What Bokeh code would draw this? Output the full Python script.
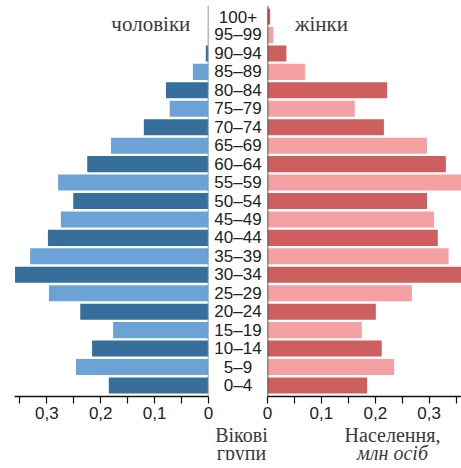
from bokeh.plotting import figure
from bokeh.layouts import row, column
from bokeh.models import Range1d, FactorRange, Span, FixedTicker, CustomJSTickFormatter, ColumnDataSource
from bokeh.core.properties import value
from bokeh.embed import file_html
from bokeh.resources import INLINE

# ---- data (millions of people) ----
age_groups = ["0–4", "5–9", "10–14", "15–19", "20–24", "25–29", "30–34", "35–39",
              "40–44", "45–49", "50–54", "55–59", "60–64", "65–69", "70–74", "75–79",
              "80–84", "85–89", "90–94", "95–99", "100+"]
men = [0.185, 0.246, 0.216, 0.177, 0.238, 0.296, 0.359, 0.331, 0.298, 0.274, 0.251,
       0.279, 0.225, 0.181, 0.120, 0.072, 0.079, 0.029, 0.005, 0.001, 0.0005]
women = [0.185, 0.235, 0.212, 0.175, 0.201, 0.268, 0.362, 0.336, 0.316, 0.309, 0.296,
         0.362, 0.331, 0.296, 0.216, 0.162, 0.222, 0.070, 0.035, 0.011, 0.005]
tick_values = [0.0, 0.05, 0.1, 0.15, 0.2, 0.25, 0.3, 0.35]
tick_labels = ["0", "", "0,1", "", "0,2", "", "0,3", ""]
x_max = 0.36
men_label = "чоловіки"
women_label = "жінки"
age_title = ["Вікові", "групи"]
value_title = ["Населення,", "млн осіб"]

# ---- styles ----
SANS_NAME = "Liberation Sans"
SANS = value(SANS_NAME)
SERIF = value("Liberation Serif")
M_DARK, M_LIGHT = "#366e9c", "#6ca3d6"
F_DARK, F_LIGHT = "#cd5f5e", "#f5a0a2"
TXT = "#222222"
SERIF_TXT = "#3a3a3a"
SERIF_SIZE = "21px"
BOT_SIZE = "20px"

men_colors = [M_DARK if i % 2 == 0 else M_LIGHT for i in range(len(age_groups))]
women_colors = [F_DARK if i % 2 == 0 else F_LIGHT for i in range(len(age_groups))]
src = ColumnDataSource(dict(age=age_groups, men=men, women=women, cm=men_colors, cw=women_colors))

y_range = FactorRange(factors=age_groups, range_padding=0.0093)
ROW_H = 425
BB = 29


def base(width, x_range, mb_left=0, mb_right=0):
    p = figure(width=width, height=ROW_H, x_range=x_range, y_range=y_range,
               output_backend="svg", toolbar_location=None, y_axis_location=None,
               title_location=None,
               min_border_top=5, min_border_bottom=BB,
               min_border_left=mb_left, min_border_right=mb_right)
    p.outline_line_color = None
    p.grid.visible = False
    p.background_fill_color = "white"
    p.border_fill_color = "white"
    return p


def style_axis(ax, color, label_color):
    ax.ticker = FixedTicker(ticks=tick_values, minor_ticks=[])
    ax.formatter = CustomJSTickFormatter(
        args=dict(tvals=tick_values, tlabs=tick_labels),
        code="""
        for (let i = 0; i < tvals.length; i++) {
            if (Math.abs(tvals[i] - tick) < 1e-9) return tlabs[i];
        }
        return "";
        """)
    ax.axis_line_color = color
    ax.axis_line_width = 1.4
    ax.major_tick_line_color = color
    ax.major_tick_line_width = 1.2
    ax.major_tick_out = 7
    ax.major_tick_in = 0
    ax.minor_tick_out = 0
    ax.minor_tick_in = 0
    ax.major_label_text_font = SANS_NAME
    ax.major_label_text_font_size = "17px"
    ax.major_label_text_color = label_color
    ax.major_label_standoff = 3


# left panel (men), reversed axis
left = base(213, Range1d(start=x_max, end=0), mb_left=14, mb_right=5)
left.hbar(y="age", left=0, right="men", height=0.87, fill_color="cm", line_color=None, source=src)
style_axis(left.xaxis[0], "#111111", TXT)
left.add_layout(Span(location=0, dimension="height", line_color="#8a8a8a", line_width=1.6))
left.text(x=[0.107], y=["100+"], text=[men_label], text_font=SERIF, text_font_size=SERIF_SIZE,
          text_color=SERIF_TXT, text_align="center", text_baseline="alphabetic", y_offset=7)

# middle panel (age labels)
mid = base(49, Range1d(0, 1))
style_axis(mid.xaxis[0], "white", "white")
mid.text(x=[0.5] * len(age_groups), y=age_groups, text=age_groups, text_font=SANS,
         text_font_size="17px", text_color=TXT, text_align="center", text_baseline="middle")

# right panel (women)
right = base(199, Range1d(start=0, end=x_max), mb_left=5, mb_right=0)
right.hbar(y="age", left=0, right="women", height=0.87, fill_color="cw", line_color=None, source=src)
style_axis(right.xaxis[0], "#111111", TXT)
right.add_layout(Span(location=0, dimension="height", line_color="#333333", line_width=1.6))
right.text(x=[0.100], y=["100+"], text=[women_label], text_font=SERIF, text_font_size=SERIF_SIZE,
           text_color=SERIF_TXT, text_align="center", text_baseline="alphabetic", y_offset=7)

# bottom titles
BOT_H = 35
bottom = figure(width=461, height=BOT_H, x_range=Range1d(0, 461), y_range=Range1d(BOT_H, 0),
                output_backend="svg", toolbar_location=None, x_axis_location=None,
                y_axis_location=None, title_location=None, min_border=0)
bottom.outline_line_color = None
bottom.grid.visible = False
bottom.text(x=[241, 241], y=[9, 27], text=age_title, text_font=SERIF, text_font_size=BOT_SIZE,
            text_color=SERIF_TXT, text_align="center", text_baseline="alphabetic")
bottom.text(x=[392], y=[9], text=[value_title[0]], text_font=SERIF, text_font_size=BOT_SIZE,
            text_color=SERIF_TXT, text_align="center", text_baseline="alphabetic")
bottom.text(x=[392], y=[27], text=[value_title[1]], text_font=SERIF, text_font_size=BOT_SIZE,
            text_font_style="italic", text_color=SERIF_TXT, text_align="center",
            text_baseline="alphabetic")

layout = column(row(left, mid, right, spacing=0), bottom, spacing=0)
open("out.html", "w").write(file_html(layout, INLINE))
